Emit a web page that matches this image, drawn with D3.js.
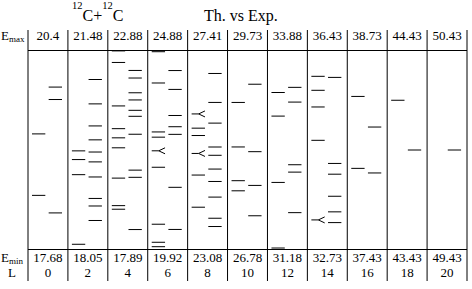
<!DOCTYPE html>
<html>
<head>
<meta charset="utf-8">
<script src="https://cdn.jsdelivr.net/npm/d3@7/dist/d3.min.js"></script>
<style>
body { margin: 0; background: #fff; }
text { font-family: "Liberation Serif", "Times New Roman", serif; fill: #000; }
</style>
</head>
<body>
<div id="chart"></div>
<script>
// angular momentum columns and the energy window (MeV) of each one
var Ls = [0, 2, 4, 6, 8, 10, 12, 14, 16, 18, 20]
var eMax = [20.4, 21.48, 22.88, 24.88, 27.41, 29.73, 33.88, 36.43, 38.73, 44.43, 50.43]
var eMin = [17.68, 18.05, 17.89, 19.92, 23.08, 26.78, 31.18, 32.73, 37.43, 43.43, 49.43]

// left column of each L: theory levels
var theory = [
  [19.26, 18.42],
  [19.75, 19.60, 19.34, 18.14],
  [22.87, 22.58, 21.49, 20.92, 20.69, 20.44, 19.68, 18.99, 18.90],
  [24.85, 24.07, 22.85, 22.72, 22.38, 21.97, 20.55, 20.10, 19.99],
  [26.03, 25.72, 25.56, 25.17, 24.70, 24.00],
  [28.96, 28.30, 27.80, 27.65],
  [33.31, 32.99, 32.09, 31.20],
  [35.95, 35.69, 35.38, 34.76, 33.28],
  [38.43, 37.96],
  [44.18],
  []
]
// right column of each L: experimental levels
var expt = [
  [19.90, 19.73, 18.18],
  [20.98, 20.56, 20.18, 19.94, 19.73, 19.56, 19.30, 18.93, 18.80, 18.55],
  [22.38, 22.19, 21.82, 21.64, 21.38, 21.23, 20.78, 19.88, 19.70, 18.39],
  [24.38, 23.91, 23.26, 22.98, 22.79, 21.47, 20.42],
  [26.91, 26.28, 25.83, 25.31, 25.13, 24.83, 24.56, 24.22, 23.76, 23.58],
  [29.23, 28.23, 27.73, 27.28],
  [33.38, 33.18, 32.33, 32.23, 31.68],
  [35.93, 34.33, 34.13, 33.72, 33.43, 33.23],
  [38.23, 37.93],
  [43.93],
  [49.93]
]
// theory levels drawn with the split marker
var forks = [[6, 22.38], [8, 26.03], [8, 25.17], [14, 33.28]]

var width = 472, height = 289
var plotTop = 50.5, plotBottom = 249.5

var svg = d3.select('#chart')
    .append('svg')
    .attr('width', width)
    .attr('height', height)

var col = d3.scaleBand()
    .domain(Ls)
    .range([28, 467])
var sub = d3.scaleBand()
    .domain(['th', 'exp'])
    .range([4, 34])
    .paddingInner(0.2)
var yScales = Ls.map(function(L, i) {
    return d3.scaleLinear().domain([eMin[i], eMax[i]]).range([plotBottom, plotTop])
})

// frame
var edges = Ls.map(function(L) { return col(L) }).concat([467])
svg.append('g')
    .selectAll('line')
    .data(edges)
    .enter()
    .append('line')
    .attr('x1', function(d) { return d })
    .attr('x2', function(d) { return d })
    .attr('y1', 30)
    .attr('y2', 281)
    .attr('stroke', '#000')
    .attr('stroke-width', 1)

svg.append('g')
    .selectAll('line')
    .data([plotTop, plotBottom])
    .enter()
    .append('line')
    .attr('x1', 28)
    .attr('x2', 467)
    .attr('y1', function(d) { return d })
    .attr('y2', function(d) { return d })
    .attr('stroke', '#000')
    .attr('stroke-width', 1)

// levels
var levels = []
Ls.forEach(function(L, i) {
    theory[i].forEach(function(e) {
        var isFork = forks.some(function(f) { return f[0] == L && f[1] == e })
        levels.push({L: L, i: i, e: e, side: 'th', fork: isFork})
    })
    expt[i].forEach(function(e) {
        levels.push({L: L, i: i, e: e, side: 'exp', fork: false})
    })
})

svg.append('g')
    .selectAll('path')
    .data(levels)
    .enter()
    .append('path')
    .attr('fill', 'none')
    .attr('stroke', '#000')
    .attr('stroke-width', 1)
    .attr('d', function(d) {
        var x1 = col(d.L) + sub(d.side)
        var x2 = x1 + sub.bandwidth()
        var y = yScales[d.i](d.e)
        if (!d.fork) return 'M' + x1 + ',' + y + 'H' + x2
        var xm = x1 + 7
        return 'M' + x1 + ',' + y + 'H' + xm +
               'M' + x2 + ',' + (y - 3) + 'L' + xm + ',' + y + 'L' + x2 + ',' + (y + 3)
    })

// header / footer rows
function row(values, y) {
    svg.append('g')
        .selectAll('text')
        .data(values)
        .enter()
        .append('text')
        .attr('x', function(d, i) { return col(Ls[i]) + col.bandwidth() / 2 })
        .attr('y', y)
        .attr('text-anchor', 'middle')
        .style('font-size', '13px')
        .text(function(d) { return d })
}
row(eMax.map(function(d) { return d.toFixed(d == 20.4 ? 1 : 2) }), 40)
row(eMin.map(function(d) { return d.toFixed(2) }), 261.5)
row(Ls, 276.5)

function subLabel(y, s) {
    var t = svg.append('text').attr('x', 1).attr('y', y).style('font-size', '13px')
    t.append('tspan').text('E')
    t.append('tspan').attr('dy', 2).style('font-size', '9px').text(s)
}
subLabel(40, 'max')
subLabel(261.5, 'min')
svg.append('text').attr('x', 8).attr('y', 276.5).style('font-size', '13px').text('L')

// title
var title = svg.append('text').attr('x', 72).attr('y', 20.5).style('font-size', '16px')
title.append('tspan').attr('dy', -12).style('font-size', '10.5px').text('12')
title.append('tspan').attr('dy', 12).text('C+')
title.append('tspan').attr('dy', -12).style('font-size', '10.5px').text('12')
title.append('tspan').attr('dy', 12).text('C')

svg.append('text')
    .attr('x', 204)
    .attr('y', 20.5)
    .style('font-size', '16px')
    .text('Th. vs Exp.')
</script>
</body>
</html>
